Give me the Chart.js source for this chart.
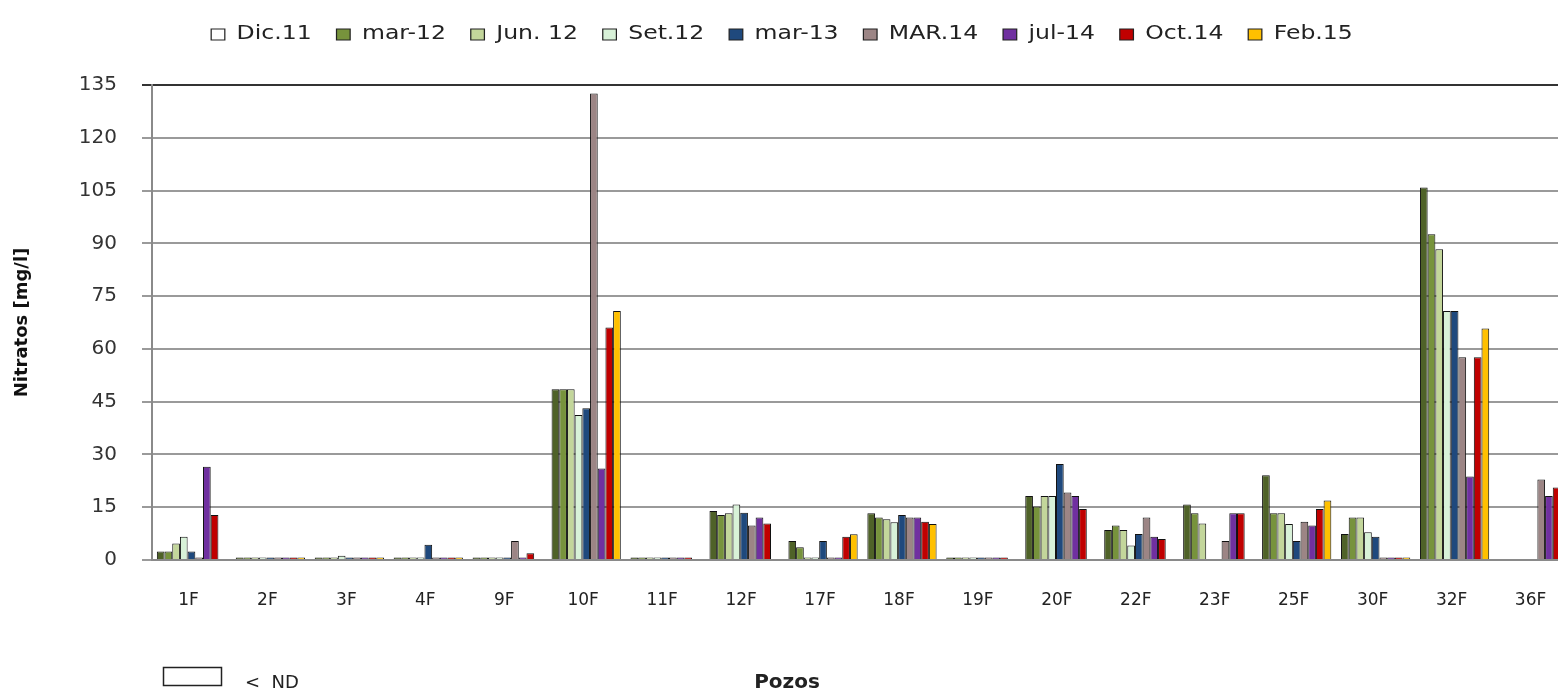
<!DOCTYPE html>
<html>
<head>
<meta charset="utf-8">
<script src="https://cdn.jsdelivr.net/npm/chart.js@4.4.1/dist/chart.umd.min.js"></script>
<style>
html, body { margin: 0; padding: 0; background: #fff; overflow: hidden; }
#wrap { position: relative; width: 1600px; height: 693px; }
</style>
</head>
<body>
<div id="wrap"><canvas id="nitratosChart"></canvas></div>
<script>
const pozos = ["1F", "2F", "3F", "4F", "9F", "10F", "11F", "12F", "17F", "18F", "19F", "20F", "22F", "23F", "25F", "30F", "32F", "36F"];
const seriesNames = ["Dic.11", "mar-12", "Jun. 12", "Set.12", "mar-13", "MAR.14", "jul-14", "Oct.14", "Feb.15"];

// 0.7 = bajo el limite de deteccion (< ND), null = sin muestra
const dic11 = [2.4, 0.7, 0.7, 0.7, 0.7, 48.5, 0.7, 13.9, 5.4, 13.3, 0.7, 18.2, 8.5, 15.8, 24.1, 7.4, 105.9, null];
const mar12 = [2.4, 0.7, 0.7, 0.7, 0.7, 48.5, 0.7, 12.8, 3.6, 12.1, 0.7, 15.2, 9.8, 13.3, 13.3, 12.1, 92.6, null];
const jun12 = [4.7, 0.7, 0.7, 0.7, 0.7, 48.5, 0.7, 13.3, 0.7, 11.6, 0.7, 18.2, 8.5, 10.4, 13.3, 12.1, 88.3, null];
const set12 = [6.6, 0.7, 1.2, 0.7, 0.7, 41.2, 0.7, 15.8, 0.7, 10.7, 0.7, 18.2, 4.1, null, 10.2, 7.9, 70.8, null];
const mar13 = [2.4, 0.7, 0.7, 4.3, 0.7, 43.1, 0.7, 13.4, 5.4, 12.8, 0.7, 27.3, 7.4, null, 5.4, 6.6, 70.8, null];
const mar14 = [0.7, 0.7, 0.7, 0.7, 5.4, 132.6, 0.7, 9.8, 0.7, 12.1, 0.7, 19.2, 12.1, 5.4, 10.9, 0.7, 57.6, 22.9];
const jul14 = [26.5, 0.7, 0.7, 0.7, 0.7, 26.0, 0.7, 12.1, 0.7, 12.1, 0.7, 18.2, 6.6, 13.3, 9.8, 0.7, 23.7, 18.2];
const oct14 = [12.8, 0.7, 0.7, 0.7, 1.9, 66.1, 0.7, 10.4, 6.6, 10.9, 0.7, 14.5, 6.0, 13.3, 14.5, 0.7, 57.6, 20.6];
const feb15 = [null, 0.7, 0.7, 0.7, null, 70.8, null, null, 7.3, 10.2, null, null, null, null, 16.9, 0.7, 65.8, 20.0];

const yTicks = [0, 15, 30, 45, 60, 75, 90, 105, 120, 135];

const seriesValues = [dic11, mar12, jun12, set12, mar13, mar14, jul14, oct14, feb15];
const seriesColors = ["#4f6228", "#77933c", "#c3d69b", "#d8f2d8", "#1f497d", "#9c8585", "#7030a0", "#c00000", "#ffc000"];

const datasets = seriesNames.map((name, i) => ({
	label: name,
	data: seriesValues[i],
	backgroundColor: seriesColors[i],
	borderColor: "#111",
	borderWidth: 1,
	categoryPercentage: 0.877,
	barPercentage: 1.0,
}));

const legendCenter = 782;

// fixed legend height, and the original legend is drawn wider than normal text
const legendSpace = {
	id: "legendSpace",
	beforeInit(chart) {
		const legend = chart.legend;
		const fit = legend.fit;
		legend.fit = function () {
			fit.call(this);
			this.height = 80;
		};
		const draw = legend.draw;
		legend.draw = function () {
			const ctx = this.ctx;
			ctx.save();
			ctx.translate(legendCenter, 0);
			ctx.scale(1.24, 1);
			ctx.translate(-legendCenter, 0);
			draw.apply(this, arguments);
			ctx.restore();
		};
	},
	beforeDraw(chart) {
		chart.legend.left = 0;
		chart.legend.right = legendCenter * 2;
	},
};

const bottomNotes = {
	id: "bottomNotes",
	afterDraw(chart) {
		const ctx = chart.ctx;
		ctx.save();
		ctx.strokeStyle = "#222";
		ctx.lineWidth = 1.5;
		ctx.strokeRect(163.5, 667.5, 58, 18);
		ctx.fillStyle = "#222";
		ctx.font = "18px 'DejaVu Sans'";
		ctx.textBaseline = "alphabetic";
		ctx.textAlign = "left";
		ctx.fillText("<  ND", 245, 688);
		ctx.font = "bold 20px 'DejaVu Sans'";
		ctx.textAlign = "center";
		ctx.fillText("Pozos", 787, 688);
		ctx.restore();
	},
};

const nitratosChart = new Chart(document.getElementById("nitratosChart"), {
	type: "bar",
	data: { labels: pozos, datasets: datasets },
	options: {
		responsive: true,
		maintainAspectRatio: false,
		animation: false,
		layout: { padding: { top: 5, right: 27, left: 0, bottom: 0 } },
		plugins: {
			tooltip: { enabled: false },
			legend: {
				position: "top",
				labels: {
					color: "#222",
					font: { family: "'DejaVu Sans'", size: 19 },
					boxWidth: 11,
					boxHeight: 11,
					padding: 20,
					generateLabels: function (chart) {
						const items = Chart.defaults.plugins.legend.labels.generateLabels(chart);
						items[0].fillStyle = "#ffffff";
						items.forEach((it) => {
							it.strokeStyle = "#222";
							it.lineWidth = 1;
						});
						return items;
					},
				},
			},
		},
		scales: {
			x: {
				grid: { display: false, drawTicks: false },
				border: { display: true, color: "#8a8a8a", width: 2 },
				ticks: {
					color: "#222",
					font: { family: "'DejaVu Sans'", size: 17 },
					padding: 30,
					labelOffset: -3,
					maxRotation: 0,
					autoSkip: false,
				},
				afterFit: function (scale) {
					scale.height = 133;
				},
			},
			y: {
				min: yTicks[0],
				max: yTicks[yTicks.length - 1],
				ticks: {
					stepSize: yTicks[1] - yTicks[0],
					color: "#333",
					font: { family: "'DejaVu Sans'", size: 20 },
					padding: 25,
				},
				grid: {
					color: function (context) {
						return context.tick && context.tick.value === 135 ? "#333" : "#9a9a9a";
					},
					lineWidth: 2,
					tickLength: 10,
				},
				border: { display: true, color: "#8a8a8a", width: 2 },
				title: {
					display: true,
					text: "Nitratos [mg/l]",
					color: "#111",
					font: { family: "'DejaVu Sans'", size: 18, weight: "bold" },
					padding: { top: 12, bottom: 0 },
				},
				afterFit: function (scale) {
					scale.width = 152;
				},
			},
		},
	},
	plugins: [legendSpace, bottomNotes],
});
</script>
</body>
</html>
